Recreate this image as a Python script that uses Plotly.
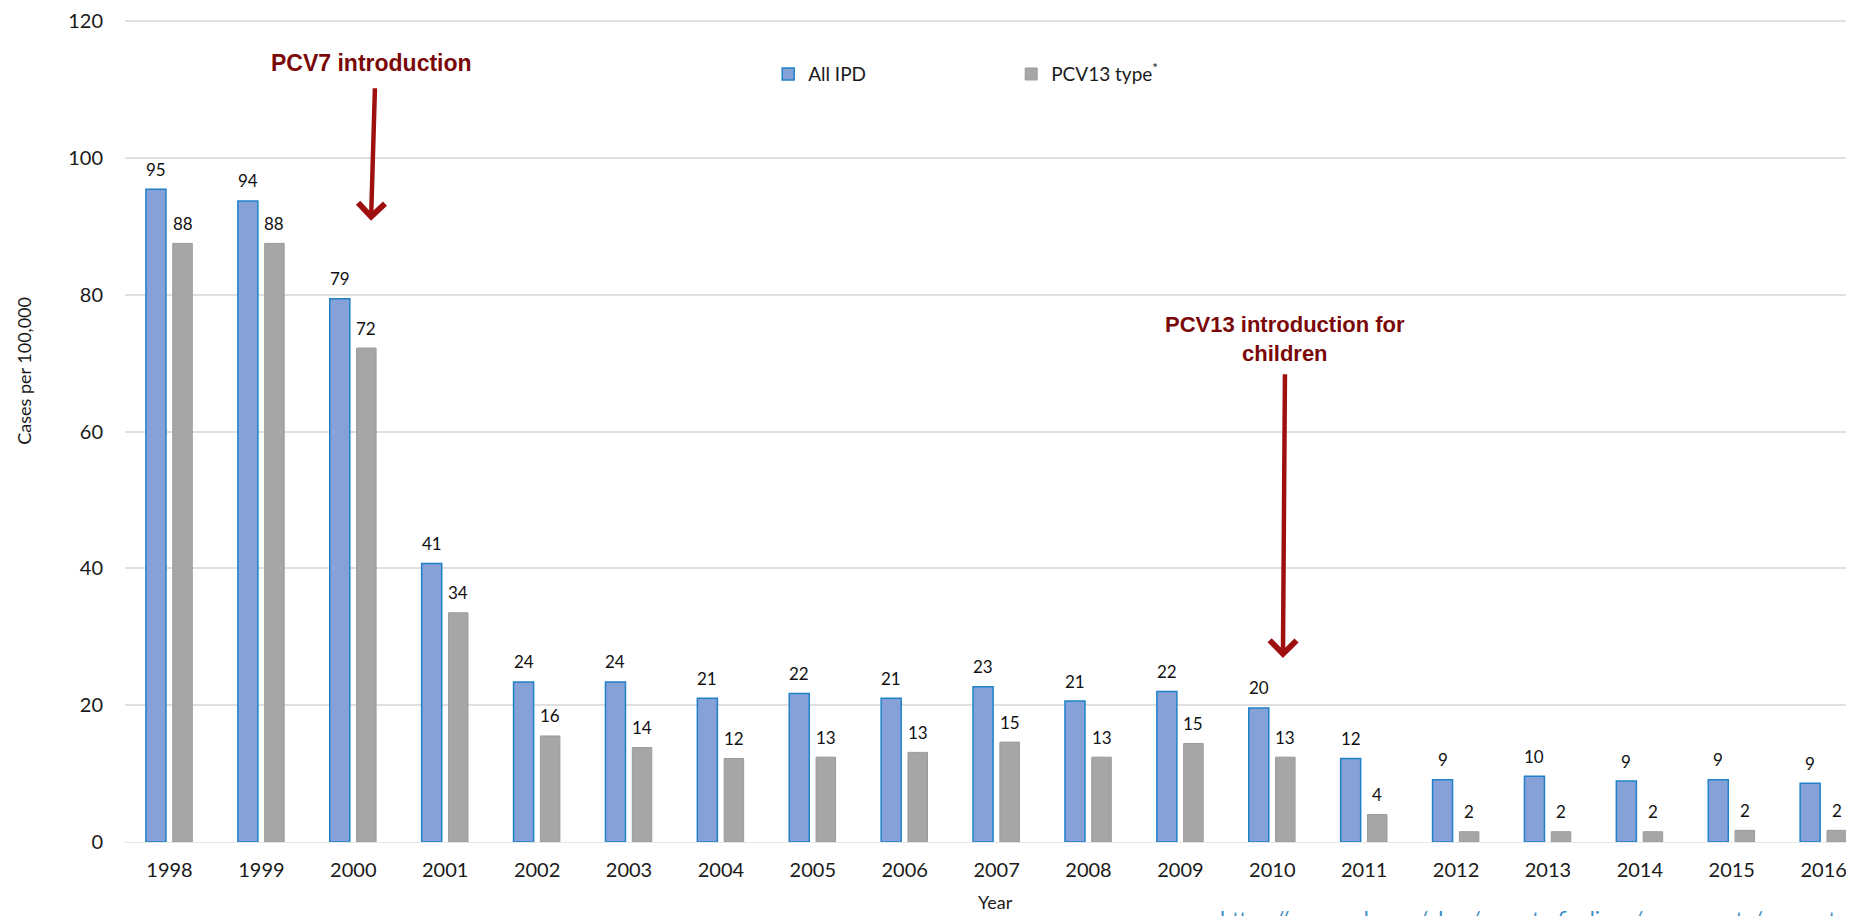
import plotly.graph_objects as go

# Rates of invasive pneumococcal disease, children <5 years
years = [1998, 1999, 2000, 2001, 2002, 2003, 2004, 2005, 2006, 2007,
         2008, 2009, 2010, 2011, 2012, 2013, 2014, 2015, 2016]
all_ipd = [95.4, 93.7, 79.4, 40.7, 23.4, 23.4, 21.0, 21.7, 21.0, 22.7,
           20.6, 22.0, 19.6, 12.2, 9.1, 9.6, 8.9, 9.1, 8.6]
pcv13_type = [87.5, 87.5, 72.2, 33.5, 15.5, 13.8, 12.2, 12.4, 13.1, 14.6,
              12.4, 14.4, 12.4, 4.0, 1.5, 1.5, 1.5, 1.7, 1.7]
all_ipd_labels = [95, 94, 79, 41, 24, 24, 21, 22, 21, 23, 21, 22, 20, 12, 9, 10, 9, 9, 9]
pcv13_labels = [88, 88, 72, 34, 16, 14, 12, 13, 13, 15, 13, 15, 13, 4, 2, 2, 2, 2, 2]
y_ticks = [0, 20, 40, 60, 80, 100, 120]

TICK_FONT = dict(family="Lato, 'Open Sans', sans-serif", size=20, color="#1a1a1a")
LABEL_FONT = dict(family="Lato, sans-serif", size=17, color="#111")
ARROW_RED = "#9e1010"
TEXT_RED = "#7a0808"

fig = go.Figure()

fig.add_trace(go.Bar(
    x=years, y=all_ipd, name="All IPD",
    offset=-0.256, width=0.218,
    marker=dict(color="#86a0d8", line=dict(color="#1f82c8", width=1.5)),
))
fig.add_trace(go.Bar(
    x=years, y=pcv13_type, name="PCV13 type<sup>*</sup>",
    offset=0.036, width=0.212,
    marker=dict(color="#a6a6a6", line=dict(color="#9a9a9a", width=1)),
))

annotations = []

# value labels above the bars
for yr, v, lab in zip(years, all_ipd, all_ipd_labels):
    annotations.append(dict(x=yr - 0.147, y=v, text=str(lab), showarrow=False,
                            yshift=20, font=LABEL_FONT))
for yr, v, lab in zip(years, pcv13_type, pcv13_labels):
    annotations.append(dict(x=yr + 0.142, y=v, text=str(lab), showarrow=False,
                            yshift=20, font=LABEL_FONT))

# introduction markers
bold_font = dict(family="'Liberation Sans', Arial, sans-serif", size=22, color=TEXT_RED)
annotations += [
    dict(x=2000.2, y=113.8, text="<b>PCV7 introduction</b>", showarrow=False,
         font=dict(bold_font, size=23)),
    dict(x=2000.193, y=90.8, ax=2000.236, ay=110.4, axref="x", ayref="y", text="",
         showarrow=True, arrowhead=4, arrowsize=1.15, arrowwidth=4.5, arrowcolor=ARROW_RED),
    dict(x=2010.14, y=73.5, text="<b>PCV13 introduction for<br>children</b>", showarrow=False,
         font=bold_font),
    dict(x=2010.116, y=26.9, ax=2010.138, ay=68.6, axref="x", ayref="y", text="",
         showarrow=True, arrowhead=4, arrowsize=1.15, arrowwidth=4.5, arrowcolor=ARROW_RED),
]

# axis titles and source line
annotations += [
    dict(xref="paper", yref="paper", x=-0.0584, y=0.5726, xanchor="center", yanchor="middle",
         text="Cases per 100,000", textangle=-90, showarrow=False,
         font=dict(family="Lato, sans-serif", size=18, color="#1a1a1a")),
    dict(xref="paper", yref="paper", x=0.5037, y=-0.0735, xanchor="center", yanchor="middle",
         text="Year", showarrow=False,
         font=dict(family="Lato, sans-serif", size=18, color="#1a1a1a")),
    dict(xref="paper", yref="paper", x=0.632, y=-0.093, xanchor="left", yanchor="middle",
         text="https://www.cdc.gov/abcs/reports-findings/survreports/spneu-types.html",
         showarrow=False, font=dict(family="Lato, sans-serif", size=22, color="#3c8dc4")),
]

fig.update_layout(
    width=1846, height=908,
    margin=dict(l=117, r=0, t=6, b=74),
    plot_bgcolor="white", paper_bgcolor="white",
    barmode="overlay",
    showlegend=True,
    legend=dict(orientation="h", x=0.372, y=0.933, xanchor="left", yanchor="middle",
                entrywidth=198, entrywidthmode="pixels", itemwidth=30,
                font=dict(family="Lato, sans-serif", size=19, color="#1a1a1a"),
                bgcolor="rgba(0,0,0,0)"),
    annotations=annotations,
    xaxis=dict(range=[1997.516, 2016.33], tickmode="array", tickvals=years,
               ticktext=[str(y) for y in years], showgrid=False, zeroline=False,
               showline=False, ticks="", tickfont=TICK_FONT, ticklabelstandoff=14),
    yaxis=dict(range=[0, 120.3], tickvals=y_ticks, showgrid=True, gridcolor="#e0e0e0",
               gridwidth=1.5, zeroline=True, zerolinecolor="#e6e6e6", zerolinewidth=1,
               showline=False, ticks="", tickfont=TICK_FONT, ticklabelstandoff=21,
               ticklabeloverflow="allow"),
)

fig.write_html("out.html")
